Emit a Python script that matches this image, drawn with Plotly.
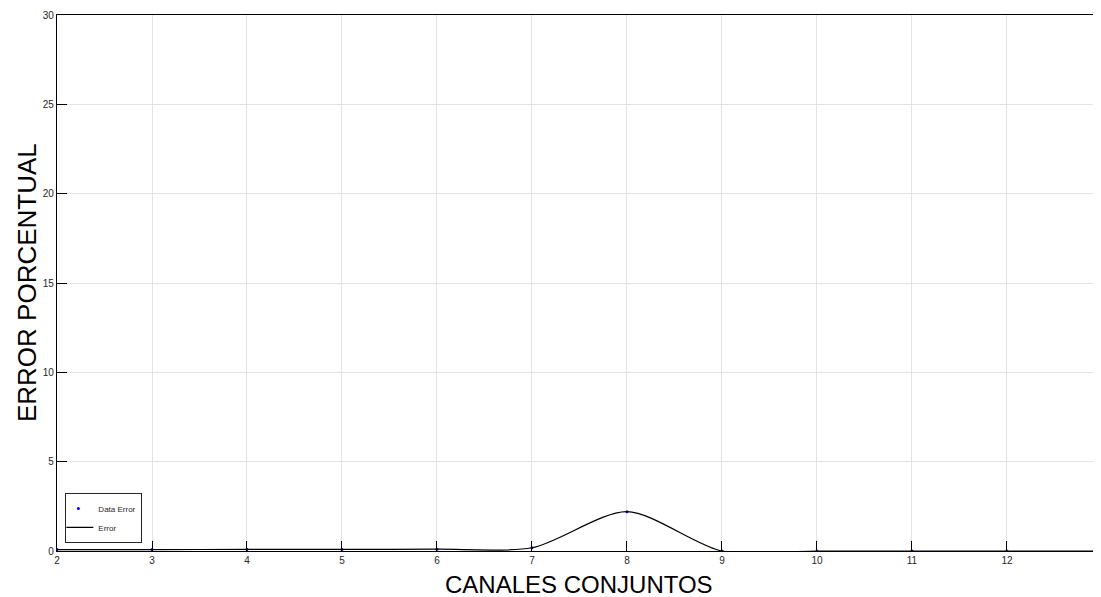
import plotly.graph_objects as go

canales = [2, 3, 4, 5, 6, 7, 8, 9, 10, 11, 12, 13]
error_pct = [0.08, 0.08, 0.09, 0.09, 0.10, 0.18, 2.2, 0.0, 0.0, 0.0, 0.0, 0.0]

x_ticks = [2, 3, 4, 5, 6, 7, 8, 9, 10, 11, 12, 13]
y_ticks = [0, 5, 10, 15, 20, 25, 30]

fig = go.Figure()
fig.add_trace(go.Scatter(
    x=canales, y=error_pct, mode="markers", name="Data Error",
    marker=dict(color="#0000ff", size=3),
))
fig.add_trace(go.Scatter(
    x=canales, y=error_pct, mode="lines", name="Error",
    line=dict(color="black", width=1.2, shape="spline", smoothing=0.8),
))

fig.update_layout(
    width=1093, height=589,
    margin=dict(l=49, r=0, t=7, b=46, autoexpand=False),
    paper_bgcolor="white", plot_bgcolor="white",
    font=dict(family="Liberation Sans, Arial, sans-serif", color="#262626"),
    showlegend=True,
    legend=dict(
        x=0.008, y=0.015, xanchor="left", yanchor="bottom",
        bgcolor="white", bordercolor="#262626", borderwidth=1,
        font=dict(size=8, color="#262626"), tracegroupgap=0,
        itemwidth=30, indentation=-8,
    ),
    annotations=[
        dict(text="CANALES CONJUNTOS", x=0.5, y=-0.033, xref="paper", yref="paper",
             xanchor="center", yanchor="top", showarrow=False,
             font=dict(size=24, color="black")),
        dict(text="ERROR PORCENTUAL", x=-0.0287, y=0.5, xref="paper", yref="paper",
             xanchor="center", yanchor="middle", showarrow=False, textangle=-90,
             font=dict(size=26, color="black")),
    ],
)
fig.update_xaxes(
    range=[2, 12.99], tickvals=x_ticks, ticktext=[str(v) for v in x_ticks],
    showgrid=True, gridcolor="#e3e3e3", gridwidth=1,
    showline=True, linecolor="black", linewidth=1.2, mirror=True,
    ticks="inside", ticklen=10, tickcolor="black", tickwidth=1.2,
    tickfont=dict(size=10, color="#262626"), zeroline=False, automargin=False,
)
fig.update_yaxes(
    range=[0, 30], tickvals=y_ticks,
    showgrid=True, gridcolor="#e3e3e3", gridwidth=1,
    showline=True, linecolor="black", linewidth=1.2, mirror=False,
    ticks="inside", ticklen=10, tickcolor="black", tickwidth=1.2,
    tickfont=dict(size=10, color="#262626"), zeroline=False, automargin=False,
)

fig.write_html("out.html")
